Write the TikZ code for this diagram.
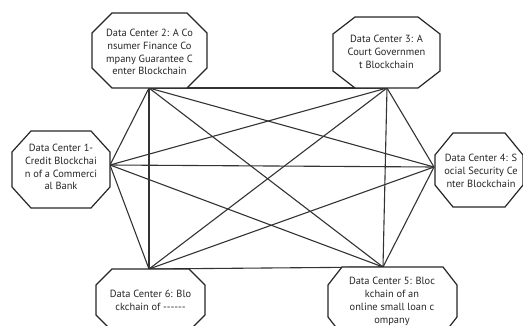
\documentclass[tikz,border=0pt]{standalone}
\usepackage{fontspec}
\setmainfont{PT Sans}
\begin{document}
\begin{tikzpicture}[x=1pt,y=-1pt,
  octbox/.style={inner sep=0pt, outer sep=0pt},
  octline/.style={draw=black!85, line width=1.2pt, fill=white, line join=miter},
  label/.style={inner sep=0pt, align=center, text=black!85,
    font=\fontsize{10.4}{12.9}\selectfont},
  link/.style={draw=black!80, line width=1.1pt}]
\useasboundingbox (0,0) rectangle (523,325);
% invisible boxes giving the octagon extents
\node[octbox, minimum width=98pt,  minimum height=77pt] (n1) at (61,169.5) {};
\node[octbox, minimum width=115pt, minimum height=75pt] (n2) at (149.5,50.5) {};
\node[octbox, minimum width=107pt, minimum height=71pt] (n3) at (386.5,52.5) {};
\node[octbox, minimum width=88pt,  minimum height=74pt] (n4) at (479,170) {};
\node[octbox, minimum width=129pt, minimum height=68pt] (n5) at (392.5,301) {};
\node[octbox, minimum width=109pt, minimum height=62pt] (n6) at (150.5,300) {};
% where the links meet each octagon
\coordinate (p1) at ([yshift=4.5pt]n1.east);
\coordinate (p2) at ([xshift=-0.5pt]n2.south);
\coordinate (p3) at ([xshift=0.5pt]n3.south);
\coordinate (p4) at ([xshift=-1pt,yshift=3pt]n4.west);
\coordinate (p5) at ([xshift=-9.5pt]n5.north);
\coordinate (p6) at ([xshift=-1.5pt]n6.north);
% every pair of data centres is linked
\foreach \a/\b in {p1/p2,p1/p3,p1/p4,p1/p5,p1/p6,
                   p2/p3,p2/p4,p2/p5,p2/p6,
                   p3/p4,p3/p5,p3/p6,
                   p4/p5,p4/p6,
                   p5/p6}
  \draw[link] (\a) -- (\b);
% octagon outlines: box name / horizontal chamfer / vertical chamfer
\foreach \n/\cx/\cy in {n1/19/21, n2/20/20, n3/22/17, n4/18/22, n5/14/18, n6/16/16}
  \draw[octline] ([xshift=\cx pt]\n.north west) -- ([xshift=-\cx pt]\n.north east)
    -- ([yshift=-\cy pt]\n.north east) -- ([yshift=\cy pt]\n.south east)
    -- ([xshift=-\cx pt]\n.south east) -- ([xshift=\cx pt]\n.south west)
    -- ([yshift=\cy pt]\n.south west) -- ([yshift=-\cy pt]\n.north west) -- cycle;
% texts
\node[label] (t1) at (61,167) {Data Center 1-\\Credit Blockchai\\n of a Commerci\\al Bank};
\node[label] (t2) at (149.5,52) {Data Center 2: A Co\\nsumer Finance Co\\mpany Guarantee C\\enter Blockchain};
\node[label] (t3) at (386.5,52) {Data Center 3: A\\Court Governmen\\t Blockchain};
\node[label] (t4) at (481,171) {Data Center 4: S\\ocial Security Ce\\nter Blockchain};
\node[label] (t5) at (392,301.3) {Data Center 5: Bloc\\kchain of an\\online small loan c\\ompany};
\node[label] (t6) at (150.5,300) {Data Center 6: Blo\\ckchain of -\kern0pt-\kern0pt-\kern0pt-\kern0pt-\kern0pt-};
\end{tikzpicture}
\end{document}
